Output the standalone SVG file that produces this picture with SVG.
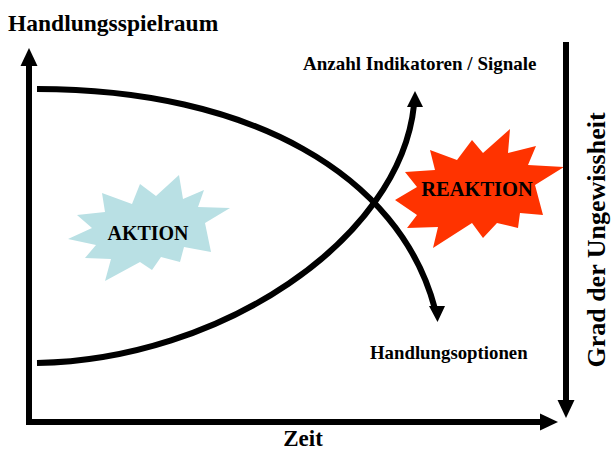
<svg xmlns="http://www.w3.org/2000/svg" width="611" height="452" viewBox="0 0 611 452">
<style>
  text { font-family: "Liberation Serif", "Times New Roman", serif; font-weight: bold; fill: #000; }
  .axis { stroke: #000; stroke-width: 6; fill: none; }
  .curve { stroke: #000; stroke-width: 6; fill: none; }
  .head { fill: #000; }
</style>
<rect width="611" height="452" fill="#fff"/>

<g id="reaktion">
  <polygon fill="#FF3300" points="510,129 508,153 536,146 528,165 564,167 535,185 543,215 520,213 518,228 497,223 483,238 472,223 433,248 438,227 407,228 417,215 395,200 417,187 405,172 435,170 430,150 457,160 472,140 483,153"/>
  <text x="477" y="196" font-size="20.5" text-anchor="middle">REAKTION</text>
</g>

<g id="aktion">
  <polygon fill="#B9E0E4" points="179,175 183,199 204,190 198,207 230,208 205,223 211,252 184,247 180,262 161,257 152,270 140,262 105,281 111,259 85,258 96,245 68,239 92,228 77,215 105,212 102,193 132,204 140,184 156,196"/>
  <text x="148" y="240" font-size="20" text-anchor="middle">AKTION</text>
</g>

<g id="connectors">
  <line class="axis" x1="29" y1="425" x2="29" y2="64"/>
  <polygon class="head" points="29,48 20.5,66 37.5,66"/>
  <line class="axis" x1="26" y1="422" x2="542" y2="422"/>
  <polygon class="head" points="558,422 540,413.5 540,430.5"/>
  <line class="axis" x1="566" y1="42" x2="566" y2="402"/>
  <polygon class="head" points="566,418 557.5,400 574.5,400"/>
  <path class="curve" d="M37,89 C250,89 400,175 435,309"/>
  <polygon class="head" points="437.5,322 429,306 445,306"/>
  <path class="curve" d="M37,363 C220,360 400,240 414,105"/>
  <polygon class="head" points="415,91 407,107 423,107"/>
</g>

<g id="labels">
  <text x="8" y="31" font-size="23.5">Handlungsspielraum</text>
  <text x="303" y="70" font-size="19">Anzahl Indikatoren / Signale</text>
  <text x="370" y="359" font-size="18.8">Handlungsoptionen</text>
  <text x="303" y="446" font-size="23" text-anchor="middle">Zeit</text>
  <text transform="translate(605,240) rotate(-90)" font-size="26" text-anchor="middle">Grad der Ungewissheit</text>
</g>
</svg>
